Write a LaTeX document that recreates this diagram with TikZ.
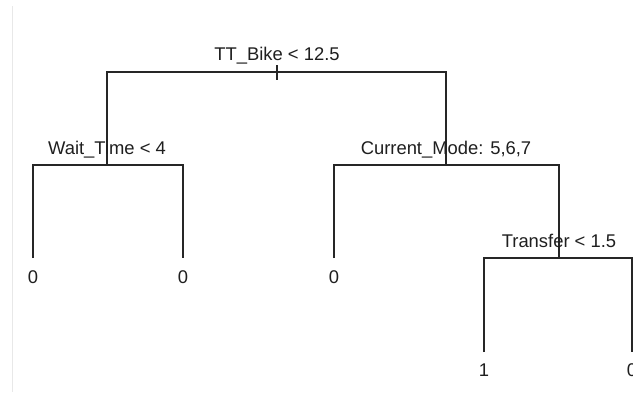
\documentclass[tikz,border=0pt]{standalone}
\usepackage{fontspec}
\setmainfont{Liberation Sans}
\begin{document}
\begin{tikzpicture}[x=1pt,y=-1pt,
  edge/.style={draw=black!85,line width=1.3pt},
  lbl/.style={inner sep=0pt,anchor=base,text=black!88,font=\fontsize{18.4}{20}\selectfont},
  pt/.style={inner sep=0pt,minimum size=0pt}]
\useasboundingbox (0,0) rectangle (633,392);
\clip (0,0) rectangle (633,392);
\fill[white] (0,0) rectangle (633,392);
\draw[draw=black!9,line width=1pt] (12,6) -- (12,392);
% split points
\coordinate (r) at (277,72);
\coordinate (rl) at (107,72);
\coordinate (rr) at (446,72);
\coordinate (a) at (107,165);
\coordinate (al) at (33,165);
\coordinate (ar) at (183,165);
\coordinate (b) at (446,165);
\coordinate (bl) at (334,165);
\coordinate (br) at (559,165);
\coordinate (c) at (559,258);
\coordinate (cl) at (484,258);
\coordinate (cr) at (632,258);
\coordinate (l1) at (33,258);
\coordinate (l2) at (183,258);
\coordinate (l3) at (334,258);
\coordinate (l4) at (484,352);
\coordinate (l5) at (632,352);
\coordinate (t1) at (277,65);
\coordinate (t2) at (277,80);
% edges
\draw[edge] (a) -- (rl) -- (rr) -- (b);
\draw[edge] (t1) -- (t2);
\draw[edge] (l1) -- (al) -- (ar) -- (l2);
\draw[edge] (l3) -- (bl) -- (br) -- (c);
\draw[edge] (l4) -- (cl) -- (cr) -- (l5);
% labels
\node[lbl] (n1) at (277,60) {TT\_Bike < 12.5};
\node[lbl] (n2) at (107,154) {Wait\_Time < 4};
\node[lbl] (n3) at (446,154) {Current\_Mode: 5,6,7};
\node[lbl] (n4) at (559,247) {Transfer < 1.5};
\node[lbl] (f1) at (33,283) {0};
\node[lbl] (f2) at (183,283) {0};
\node[lbl] (f3) at (334,283) {0};
\node[lbl] (f4) at (484,376) {1};
\node[lbl] (f5) at (632,376) {0};
\end{tikzpicture}
\end{document}
